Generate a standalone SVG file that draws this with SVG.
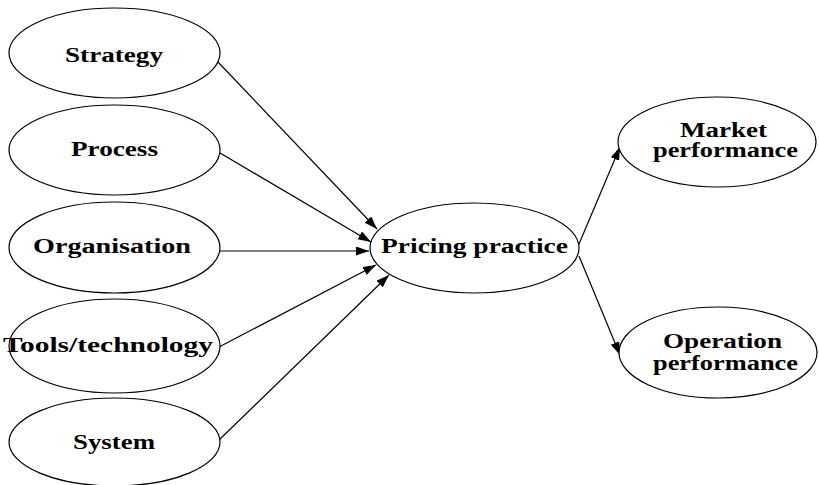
<svg xmlns="http://www.w3.org/2000/svg" width="819" height="485" viewBox="0 0 819 485">
<style>
.n ellipse{fill:#fff;stroke:#000;stroke-width:1.2}
.n text{font-family:"Liberation Serif","Times New Roman",serif;font-weight:bold;font-size:20px;fill:#000;text-anchor:middle}
.e line{stroke:#000;stroke-width:1.2;marker-end:url(#ah)}
</style>
<defs>
<marker id="ah" markerUnits="userSpaceOnUse" markerWidth="14" markerHeight="10" refX="13" refY="4.5" orient="auto">
<path d="M0,0 L13,4.5 L0,9 z" fill="#000"/>
</marker>
</defs>
<rect width="819" height="485" fill="#fff"/>
<g id="edges" class="e">
<line x1="218" y1="62" x2="377" y2="229"/>
<line x1="220" y1="153" x2="371" y2="242"/>
<line x1="220" y1="251" x2="369" y2="251"/>
<line x1="219" y1="347" x2="376" y2="265"/>
<line x1="218" y1="441" x2="389" y2="275"/>
<line x1="579" y1="244" x2="620" y2="147"/>
<line x1="579" y1="256" x2="620" y2="355"/>
</g>
<g id="strategy" class="n"><ellipse cx="114.5" cy="53" rx="105.5" ry="45"/><text x="114" y="62" textLength="98" lengthAdjust="spacingAndGlyphs">Strategy</text></g>
<g id="process" class="n"><ellipse cx="114.5" cy="150" rx="105.5" ry="45"/><text x="114.5" y="156" textLength="87" lengthAdjust="spacingAndGlyphs">Process</text></g>
<g id="organisation" class="n"><ellipse cx="114.5" cy="247.5" rx="105.5" ry="45.5"/><text x="112" y="253" textLength="158" lengthAdjust="spacingAndGlyphs">Organisation</text></g>
<g id="tools" class="n"><ellipse cx="114.5" cy="346" rx="105.5" ry="47"/><text x="108" y="352" textLength="210" lengthAdjust="spacingAndGlyphs">Tools/technology</text></g>
<g id="system" class="n"><ellipse cx="114.5" cy="442" rx="105.5" ry="44"/><text x="114" y="449" textLength="82" lengthAdjust="spacingAndGlyphs">System</text></g>
<g id="pricing" class="n"><ellipse cx="474.5" cy="248" rx="104.5" ry="45"/><text x="474.5" y="253" textLength="187" lengthAdjust="spacingAndGlyphs">Pricing practice</text></g>
<g id="market" class="n"><ellipse cx="717" cy="142" rx="99" ry="45"/><text x="723.5" y="137" textLength="87" lengthAdjust="spacingAndGlyphs">Market</text><text x="725.5" y="157" textLength="145" lengthAdjust="spacingAndGlyphs">performance</text></g>
<g id="operation" class="n"><ellipse cx="718" cy="352.5" rx="99" ry="45.5"/><text x="722.5" y="348" textLength="119" lengthAdjust="spacingAndGlyphs">Operation</text><text x="725.5" y="370" textLength="145" lengthAdjust="spacingAndGlyphs">performance</text></g>
</svg>
